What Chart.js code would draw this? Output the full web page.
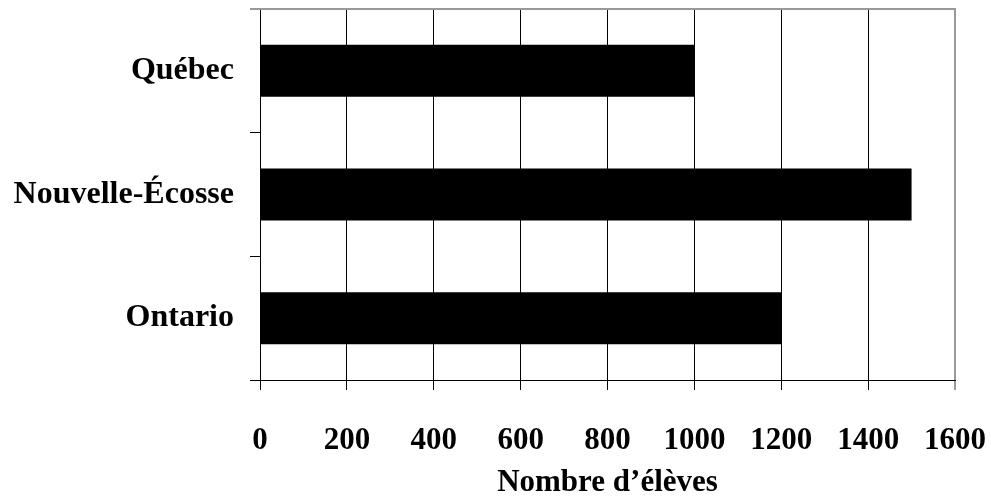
<!DOCTYPE html>
<html>
<head>
<meta charset="utf-8">
<script src="https://cdn.jsdelivr.net/npm/chart.js@4"></script>
<style>
  html, body { margin: 0; padding: 0; background: #fff; }
  #wrap { width: 991px; height: 498px; }
</style>
</head>
<body>
<div id="wrap"><canvas id="myChart"></canvas></div>
<script>
const provinces = ['Québec', 'Nouvelle-Écosse', 'Ontario'];
const students = [1000, 1500, 1200];
const xTicks = [0, 200, 400, 600, 800, 1000, 1200, 1400, 1600];
const xTitle = 'Nombre d’élèves';

const serif = '"Liberation Serif", "Times New Roman", serif';

// gray frame on top (the right one is the last grid line)
const topBorder = {
  id: 'topBorder',
  afterDraw(chart) {
    const a = chart.chartArea;
    const ctx = chart.ctx;
    ctx.save();
    ctx.strokeStyle = '#999';
    ctx.lineWidth = 2;
    ctx.beginPath();
    ctx.moveTo(a.left - 10, a.top);
    ctx.lineTo(a.right + 1, a.top);
    ctx.stroke();
    ctx.restore();
  }
};

const ctx = document.getElementById('myChart').getContext('2d');
new Chart(ctx, {
  type: 'bar',
  data: {
    labels: provinces,
    datasets: [{
      data: students,
      backgroundColor: '#000',
      borderWidth: 0,
      barPercentage: 0.42,
      categoryPercentage: 1
    }]
  },
  options: {
    indexAxis: 'y',
    responsive: true,
    maintainAspectRatio: false,
    animation: false,
    layout: { padding: { left: 10, top: 9, right: 0, bottom: 0 } },
    plugins: {
      legend: { display: false },
      tooltip: { enabled: false }
    },
    scales: {
      x: {
        min: 0,
        max: 1600,
        afterBuildTicks: (axis) => { axis.ticks = xTicks.map(v => ({ value: v })); },
        afterFit: (axis) => { axis.paddingLeft = 0; axis.paddingRight = 36; axis.height = 118; },
        grid: {
          color: (c) => c.tick && c.tick.value === 1600 ? '#999' : '#000',
          lineWidth: (c) => c.tick && c.tick.value === 1600 ? 2 : 1,
          tickLength: 10
        },
        border: { color: '#000', width: 1 },
        ticks: {
          color: '#000',
          padding: 35,
          maxRotation: 0,
          callback: (v) => String(v),
          font: { family: serif, size: 31, weight: 'bold', lineHeight: 1 }
        },
        title: {
          display: true,
          text: xTitle,
          color: '#000',
          padding: { top: 12, bottom: 0 },
          font: { family: serif, size: 31, weight: 'bold', lineHeight: 1 }
        }
      },
      y: {
        afterFit: (axis) => { axis.paddingTop = 0; axis.paddingBottom = 0; axis.width = 250; },
        grid: {
          drawOnChartArea: false,
          offset: true,
          color: '#000',
          tickLength: 10
        },
        border: { color: '#000', width: 1 },
        ticks: {
          color: '#000',
          padding: 16,
          font: { family: serif, size: 32, weight: 'bold', lineHeight: 1 }
        }
      }
    }
  },
  plugins: [topBorder]
});
</script>
</body>
</html>
